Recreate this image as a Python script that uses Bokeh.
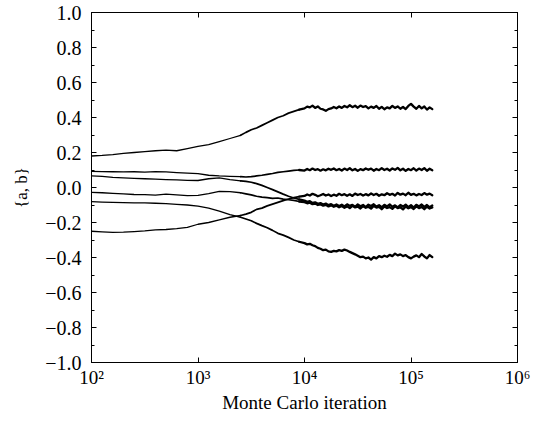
from bokeh.plotting import figure
from bokeh.models import LinearAxis, LogAxis, FixedTicker, Range1d
from bokeh.embed import file_html
from bokeh.resources import INLINE

# x positions as log10(Monte Carlo iteration)
log10_iteration = [
    2.0, 2.1, 2.2, 2.3, 2.4, 2.5, 2.6, 2.7, 2.8, 2.9, 3.0, 3.1, 3.2, 3.3, 3.4,
    3.45, 3.5, 3.55, 3.6, 3.65, 3.7, 3.75, 3.8, 3.85, 3.9, 3.95,
    4.0, 4.025, 4.05, 4.075, 4.1, 4.125, 4.15, 4.175, 4.2, 4.225, 4.25, 4.275,
    4.3, 4.325, 4.35, 4.375, 4.4, 4.425, 4.45, 4.475, 4.5, 4.525, 4.55, 4.575,
    4.6, 4.625, 4.65, 4.675, 4.7, 4.725, 4.75, 4.775, 4.8, 4.825, 4.85, 4.875,
    4.9, 4.925, 4.95, 4.975, 5.0, 5.025, 5.05, 5.075, 5.1, 5.125, 5.15, 5.175, 5.2,
]

series_a = [
    0.180, 0.183, 0.188, 0.195, 0.200, 0.205, 0.210, 0.213, 0.210, 0.222, 0.235, 0.245, 0.262, 0.280, 0.298,
    0.315, 0.330, 0.340, 0.355, 0.370, 0.385, 0.400, 0.410, 0.425, 0.435, 0.445,
    0.452, 0.462, 0.458, 0.468, 0.455, 0.463, 0.450, 0.446, 0.438, 0.448, 0.452, 0.460,
    0.453, 0.463, 0.455, 0.466, 0.458, 0.470, 0.459, 0.467, 0.456, 0.468, 0.460, 0.465,
    0.452, 0.462, 0.455, 0.466, 0.450, 0.461, 0.447, 0.458, 0.452, 0.466, 0.455, 0.463,
    0.450, 0.460, 0.448, 0.466, 0.478, 0.462, 0.450, 0.466, 0.452, 0.463, 0.445, 0.458, 0.448,
]

series_b = [
    0.092, 0.091, 0.090, 0.089, 0.090, 0.088, 0.091, 0.089, 0.085, 0.082, 0.079, 0.070, 0.066, 0.064, 0.062,
    0.060, 0.062, 0.066, 0.070, 0.075, 0.080, 0.086, 0.090, 0.094, 0.098, 0.100,
    0.097, 0.106, 0.099, 0.108, 0.100, 0.105, 0.096, 0.104, 0.098, 0.107, 0.101, 0.109,
    0.099, 0.106, 0.097, 0.108, 0.100, 0.110, 0.098, 0.106, 0.095, 0.105, 0.099, 0.109,
    0.101, 0.108, 0.096, 0.106, 0.099, 0.111, 0.100, 0.107, 0.097, 0.109, 0.101, 0.112,
    0.098, 0.107, 0.095, 0.106, 0.099, 0.110, 0.097, 0.108, 0.100, 0.111, 0.096, 0.107, 0.099,
]

series_c = [
    0.066, 0.063, 0.058, 0.055, 0.052, 0.050, 0.048, 0.045, 0.043, 0.041, 0.040, 0.050, 0.055, 0.045, 0.038,
    0.035, 0.030, 0.022, 0.012, 0.000, -0.012, -0.025, -0.038, -0.050, -0.060, -0.068,
    -0.075, -0.082, -0.078, -0.088, -0.085, -0.093, -0.089, -0.097, -0.092, -0.101, -0.095, -0.104,
    -0.097, -0.106, -0.098, -0.108, -0.096, -0.105, -0.099, -0.110, -0.097, -0.107, -0.100, -0.112,
    -0.098, -0.106, -0.096, -0.109, -0.101, -0.113, -0.099, -0.108, -0.097, -0.110, -0.102, -0.114,
    -0.100, -0.109, -0.098, -0.112, -0.101, -0.115, -0.099, -0.108, -0.097, -0.111, -0.100, -0.113, -0.103,
]

series_d = [
    -0.028, -0.030, -0.034, -0.037, -0.040, -0.041, -0.043, -0.038, -0.042, -0.046, -0.045, -0.035, -0.022, -0.024, -0.030,
    -0.036, -0.042, -0.050, -0.055, -0.058, -0.062, -0.060, -0.066, -0.070, -0.074, -0.080,
    -0.084, -0.090, -0.087, -0.095, -0.092, -0.100, -0.096, -0.104, -0.099, -0.108, -0.102, -0.110,
    -0.104, -0.113, -0.106, -0.116, -0.108, -0.118, -0.105, -0.114, -0.109, -0.120, -0.107, -0.116,
    -0.110, -0.121, -0.106, -0.115, -0.111, -0.124, -0.108, -0.117, -0.112, -0.122, -0.107, -0.118,
    -0.113, -0.125, -0.109, -0.119, -0.112, -0.123, -0.108, -0.118, -0.111, -0.124, -0.110, -0.120, -0.114,
]

series_e = [
    -0.081, -0.083, -0.085, -0.087, -0.088, -0.088, -0.090, -0.092, -0.096, -0.100, -0.107, -0.118, -0.135, -0.155, -0.170,
    -0.180, -0.190, -0.205, -0.218, -0.230, -0.245, -0.262, -0.272, -0.285, -0.300, -0.310,
    -0.318, -0.325, -0.322, -0.330, -0.335, -0.345, -0.350, -0.358, -0.355, -0.365, -0.368, -0.362,
    -0.365, -0.358, -0.362, -0.355, -0.360, -0.368, -0.375, -0.382, -0.390, -0.398, -0.395, -0.405,
    -0.400, -0.412, -0.398, -0.405, -0.392, -0.398, -0.390, -0.396, -0.385, -0.392, -0.378, -0.388,
    -0.382, -0.392, -0.386, -0.398, -0.405, -0.395, -0.388, -0.398, -0.380, -0.394, -0.405, -0.386, -0.398,
]

series_f = [
    -0.250, -0.253, -0.256, -0.255, -0.252, -0.248, -0.242, -0.240, -0.235, -0.228, -0.210, -0.200, -0.185, -0.170, -0.160,
    -0.152, -0.142, -0.125, -0.118, -0.105, -0.095, -0.085, -0.075, -0.066, -0.058, -0.052,
    -0.048, -0.040, -0.046, -0.036, -0.042, -0.050, -0.044, -0.037, -0.046, -0.040, -0.049, -0.041,
    -0.047, -0.036, -0.044, -0.038, -0.047, -0.039, -0.048, -0.035, -0.043, -0.037, -0.046, -0.038,
    -0.045, -0.034, -0.043, -0.036, -0.047, -0.039, -0.044, -0.033, -0.042, -0.036, -0.046, -0.031,
    -0.041, -0.035, -0.044, -0.030, -0.042, -0.036, -0.045, -0.037, -0.043, -0.032, -0.041, -0.035, -0.044,
]

x_tick_values = [1e2, 1e3, 1e4, 1e5, 1e6]
x_tick_labels = ["10\u00b2", "10\u00b3", "10\u2074", "10\u2075", "10\u2076"]
y_tick_values = [-1.0, -0.8, -0.6, -0.4, -0.2, 0.0, 0.2, 0.4, 0.6, 0.8, 1.0]
y_tick_labels = ["\u22121.0", "\u22120.8", "\u22120.6", "\u22120.4", "\u22120.2",
                 "0.0", "0.2", "0.4", "0.6", "0.8", "1.0"]
y_minor_values = [-0.9, -0.7, -0.5, -0.3, -0.1, 0.1, 0.3, 0.5, 0.7, 0.9]

x_title = "Monte Carlo iteration"
y_title = "{a, b}"

FONT = "Liberation Serif"

iterations = [10 ** e for e in log10_iteration]

p = figure(
    width=540, height=422,
    x_axis_type="log",
    x_range=Range1d(1e2, 1e6), y_range=Range1d(-1.0, 1.0),
    output_backend="svg", toolbar_location=None,
    min_border_left=91, min_border_right=23, min_border_top=12, min_border_bottom=60,
)
p.xgrid.visible = False
p.ygrid.visible = False
p.outline_line_color = "black"
p.outline_line_width = 1
p.background_fill_color = "white"
p.border_fill_color = "white"

# thin early part, slightly heavier middle, noisy (thick) late plateau
segments = [(0, 15, 1.3), (14, 26, 1.7), (25, len(log10_iteration), 2.3)]
for s in [series_a, series_b, series_c, series_d, series_e, series_f]:
    for lo, hi, w in segments:
        p.line(iterations[lo:hi], s[lo:hi], line_color="black", line_width=w,
               line_join="round", line_cap="round")

bottom_axis = p.below[0]
left_axis = p.left[0]
top_axis = LogAxis()
right_axis = LinearAxis()
p.add_layout(top_axis, "above")
p.add_layout(right_axis, "right")

for ax in [bottom_axis, top_axis]:
    ax.ticker = FixedTicker(ticks=x_tick_values, minor_ticks=[])
for ax in [left_axis, right_axis]:
    ax.ticker = FixedTicker(ticks=y_tick_values, minor_ticks=y_minor_values)

for ax in [bottom_axis, top_axis, left_axis, right_axis]:
    ax.axis_line_color = "black"
    ax.axis_line_width = 1
    ax.major_tick_in = 5
    ax.major_tick_out = 0
    ax.minor_tick_in = 3
    ax.minor_tick_out = 0
    ax.major_tick_line_color = "black"
    ax.minor_tick_line_color = "black"
    ax.major_label_text_font = FONT
    ax.major_label_text_font_size = "19px"
    ax.major_label_text_color = "black"
    ax.axis_label_text_font = FONT
    ax.axis_label_text_font_style = "normal"
    ax.axis_label_text_color = "black"

for ax in [top_axis, right_axis]:
    ax.major_label_text_font_size = "0px"
    ax.major_label_text_color = None
    ax.major_label_standoff = 0

left_axis.major_label_text_font_size = "20px"
bottom_axis.major_label_overrides = dict(zip(x_tick_values, x_tick_labels))
left_axis.major_label_overrides = dict(zip(y_tick_values, y_tick_labels))
bottom_axis.major_label_standoff = 4
left_axis.major_label_standoff = 10

bottom_axis.axis_label = x_title
bottom_axis.axis_label_text_font_size = "19px"
bottom_axis.axis_label_standoff = 1
left_axis.axis_label = y_title
left_axis.axis_label_text_font_size = "17px"
left_axis.axis_label_standoff = 11

open("out.html", "w").write(file_html(p, INLINE))
